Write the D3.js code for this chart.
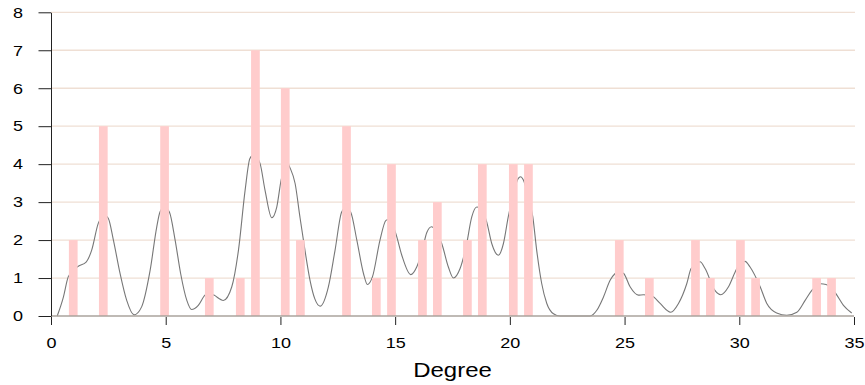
<!DOCTYPE html>
<html>
<head>
<meta charset="utf-8">
<script src="https://cdn.jsdelivr.net/npm/d3@7"></script>
<style>
  html, body { margin: 0; padding: 0; background: #fff; }
  svg { display: block; font-family: "Liberation Sans", Arial, sans-serif; }
</style>
</head>
<body>
<svg id="chart" width="865" height="385"></svg>
<script>
// Histogram bins (bin centre in degree units) and counts
const binCenters = [0.97, 2.28, 4.95, 6.90, 8.25, 8.91, 10.21, 10.87, 12.88, 14.18, 14.84, 16.19, 16.84,
                    18.15, 18.80, 20.15, 20.81, 24.77, 26.08, 28.09, 28.74, 30.05, 30.71, 33.37, 34.02];
const binCounts  = [2, 5, 5, 1, 1, 7, 6, 2, 5, 1, 4, 2, 3,
                    2, 4, 4, 4, 2, 1, 2, 1, 2, 1, 1, 1];

// Density curve (degree, scaled value)
const curveDegree = [0.27, 0.54, 0.75, 1.0, 1.19, 1.53, 1.77, 2.06, 2.32, 2.50, 2.72, 3.01, 3.30, 3.62, 3.95,
  4.32, 4.61, 4.75, 4.94, 5.16, 5.41, 5.65, 5.92, 6.13, 6.42, 6.71, 6.90, 7.10, 7.51, 7.88, 8.17, 8.46, 8.67,
  8.85, 9.11, 9.33, 9.62, 9.84, 10.03, 10.28, 10.42, 10.64, 10.85, 11.07, 11.29, 11.50, 11.73, 12.09, 12.38,
  12.67, 12.85, 13.06, 13.33, 13.62, 13.79, 14.01, 14.34, 14.60, 14.75, 15.03, 15.29, 15.68, 15.94, 16.19,
  16.38, 16.59, 16.80, 17.03, 17.32, 17.54, 17.83, 18.10, 18.34, 18.56, 18.70, 18.99, 19.21, 19.50, 19.72,
  19.93, 20.15, 20.36, 20.47, 20.59, 20.80, 21.00, 21.17, 21.39, 21.61, 21.90, 22.19, 23.50, 23.79, 24.08,
  24.37, 24.59, 24.75, 24.96, 25.24, 25.60, 25.82, 26.05, 26.27, 26.55, 27.01, 27.35, 27.71, 27.90, 28.29,
  28.51, 28.93, 29.19, 29.53, 29.82, 30.05, 30.25, 30.47, 30.91, 31.20, 31.63, 32.07, 32.51, 32.87, 33.17,
  33.55, 33.78, 34.00, 34.21, 34.54, 34.90];
const curveValue = [0, 0.50, 1.03, 1.22, 1.31, 1.42, 1.73, 2.44, 2.66, 2.57, 2.00, 1.12, 0.41, 0.03, 0.24,
  1.20, 2.35, 2.74, 2.87, 2.74, 2.00, 1.12, 0.41, 0.17, 0.28, 0.55, 0.60, 0.55, 0.41, 0.77, 1.73, 3.31, 4.15,
  4.25, 4.02, 3.31, 2.59, 2.87, 3.58, 4.05, 3.90, 3.49, 2.61, 1.73, 0.94, 0.45, 0.26, 0.77, 1.73,
  2.74, 2.85, 2.74, 2.00, 1.12, 0.83, 1.03, 2.00, 2.52, 2.55, 2.17, 1.60, 1.09, 1.29, 1.75,
  2.20, 2.35, 2.20, 1.91, 1.29, 1.00, 1.25, 1.85, 2.61, 2.87, 2.85, 2.48, 1.91, 1.60, 1.91,
  2.61, 3.20, 3.62, 3.67, 3.58, 3.15, 2.61, 1.73, 0.85, 0.33, 0.06, 0, 0, 0.15, 0.50,
  0.94, 1.12, 1.17, 1.12, 0.77, 0.55, 0.56, 0.55, 0.50, 0.33, 0.10, 0.33, 0.85, 1.25, 1.43,
  1.25, 0.68, 0.56, 0.77, 1.16, 1.40, 1.44, 1.29, 0.77, 0.33, 0.08, 0.02, 0.10, 0.41, 0.68,
  0.85, 0.83, 0.75, 0.59, 0.28, 0.08];

const xTicks = [0, 5, 10, 15, 20, 25, 30, 35];
const yTicks = [0, 1, 2, 3, 4, 5, 6, 7, 8];
const xTitle = "Degree";

(function () {
const svg = d3.select("#chart");
const mLeft = 51, mRight = 854, mTop = 12.3, mBottom = 316;
const stretch = 1.2; // horizontal stretch of the original lettering

const x = d3.scaleLinear().domain([0, 35]).range([mLeft, mRight]);
const y = d3.scaleLinear().domain([0, 8]).range([mBottom, mTop]);

// gridlines
svg.append("g").selectAll("line").data(yTicks.filter(d => d > 0)).join("line")
  .attr("x1", mLeft).attr("x2", mRight + 1)
  .attr("y1", d => y(d)).attr("y2", d => y(d))
  .attr("stroke", "#efdfd4").attr("stroke-width", 1.3);

// density curve (drawn below the bars)
const line = d3.line().x(d => x(d[0])).y(d => y(d[1])).curve(d3.curveMonotoneX);
svg.append("path")
  .datum(curveDegree.map((d, i) => [d, curveValue[i]]))
  .attr("d", line)
  .attr("fill", "none")
  .attr("stroke", "#777")
  .attr("stroke-width", 1.1);

// bars
const barW = 8.7;
svg.append("g").selectAll("rect").data(binCenters.map((c, i) => ({c, n: binCounts[i]}))).join("rect")
  .attr("x", d => x(d.c) - barW / 2)
  .attr("width", barW)
  .attr("y", d => y(d.n))
  .attr("height", d => y(0) - y(d.n))
  .attr("fill", "#ffcccc");

// baseline
svg.append("line").attr("x1", mLeft).attr("x2", mRight).attr("y1", y(0)).attr("y2", y(0))
  .attr("stroke", "#aaa39d").attr("stroke-width", 1.6);

// x axis
const xAxis = d3.axisBottom(x).tickValues(xTicks).tickSize(8).tickPadding(12).tickSizeOuter(0);
const gx = svg.append("g").attr("transform", `translate(0,${mBottom + 1})`).call(xAxis);
gx.select(".domain").remove();
gx.selectAll(".tick line").attr("stroke", "#222");
gx.selectAll(".tick text").attr("font-size", 15).attr("fill", "#000")
  .attr("font-family", "Liberation Sans, Arial, sans-serif")
  .attr("transform", `scale(${stretch},1)`)
  .attr("x", 0);

// y axis
const yAxis = d3.axisLeft(y).tickValues(yTicks).tickSize(12.5).tickPadding(15).tickSizeOuter(0);
const gy = svg.append("g").attr("transform", `translate(${mLeft},0)`).call(yAxis);
gy.select(".domain").attr("stroke", "#222");
gy.selectAll(".tick line").attr("stroke", "#222");
gy.selectAll(".tick text").attr("font-size", 15).attr("fill", "#000")
  .attr("font-family", "Liberation Sans, Arial, sans-serif")
  .attr("x", 0)
  .attr("transform", `translate(-28,0) scale(${stretch},1)`);

// x title
svg.append("text")
  .attr("transform", `translate(${(mLeft + mRight) / 2},377) scale(${stretch},1)`)
  .attr("text-anchor", "middle").attr("font-size", 20).attr("fill", "#000")
  .text(xTitle);
})();
</script>
</body>
</html>
